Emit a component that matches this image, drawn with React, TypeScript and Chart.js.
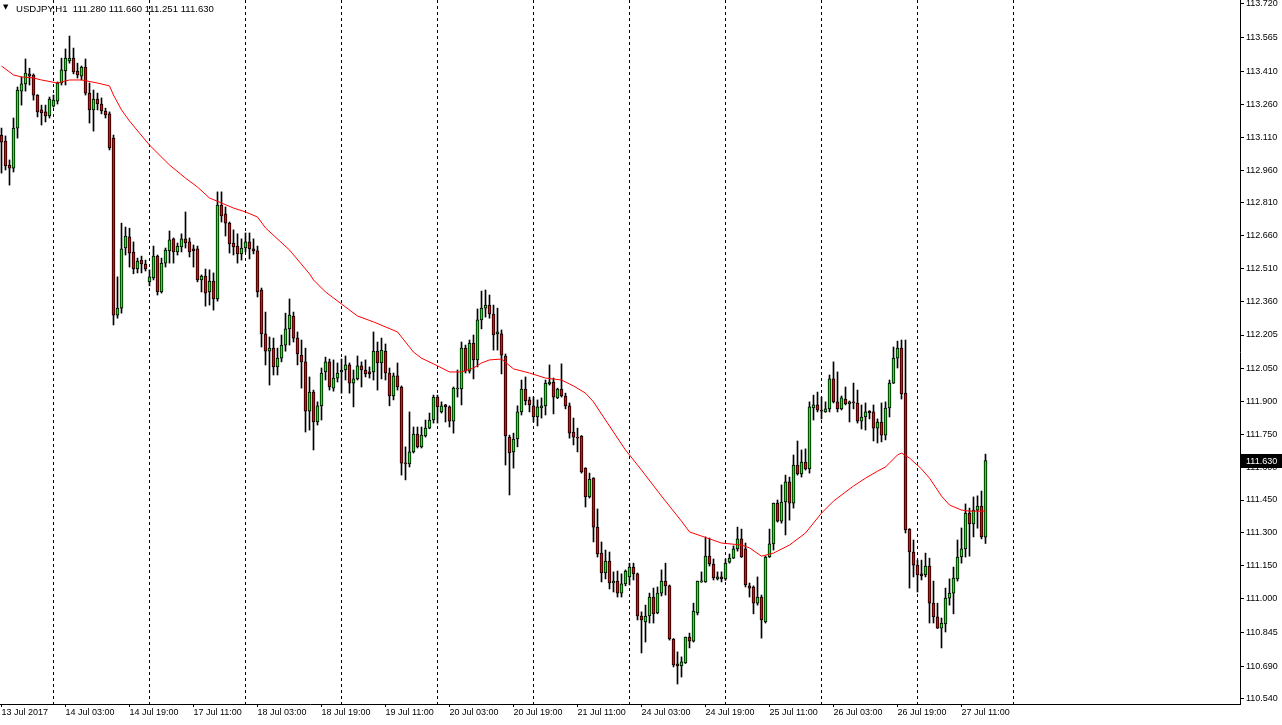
import React, { useEffect, useRef } from 'react';
import { Chart, registerables } from 'chart.js';

Chart.register(...registerables);

// ---------- data (USDJPY, H1), bar index 0 = 13 Jul 2017 11:00 ----------
const symbolTitle = 'USDJPY,H1';
const lastQuote = ['111.280', '111.660', '111.251', '111.630'];

const opens = [
  113.120, 113.092, 112.983, 112.969, 113.152, 113.321, 113.354, 113.400, 113.395, 113.303,
  113.235, 113.226, 113.207, 113.252, 113.275, 113.358, 113.413, 113.459, 113.472, 113.413,
  113.390, 113.431, 113.312, 113.235, 113.285, 113.262, 113.230, 113.217, 113.106, 112.296,
  112.328, 112.603, 112.654, 112.585, 112.507, 112.548, 112.530, 112.448, 112.466, 112.566,
  112.402, 112.534, 112.590, 112.645, 112.585, 112.608, 112.645, 112.631, 112.599, 112.599,
  112.457, 112.475, 112.402, 112.452, 112.370, 112.800, 112.759, 112.717, 112.626, 112.612,
  112.576, 112.603, 112.631, 112.599, 112.590, 112.411, 112.210, 112.131, 112.145, 112.059,
  112.099, 112.159, 112.233, 112.292, 112.191, 112.113, 112.082, 111.857, 111.944, 111.807,
  111.881, 112.036, 112.082, 111.962, 112.008, 112.036, 112.045, 112.068, 111.985, 112.004,
  112.064, 112.045, 112.036, 112.036, 112.131, 112.077, 112.131, 112.031, 111.926, 112.018,
  111.967, 111.619, 111.615, 111.670, 111.752, 111.693, 111.743, 111.779, 111.816, 111.921,
  111.853, 111.885, 111.876, 111.811, 111.958, 111.958, 112.145, 112.040, 112.168, 112.091,
  112.274, 112.328, 112.342, 112.301, 112.210, 112.210, 112.109, 111.738, 111.670, 111.729,
  111.853, 111.958, 111.908, 111.881, 111.830, 111.871, 111.881, 111.981, 111.990, 111.917,
  111.958, 111.926, 111.881, 111.761, 111.738, 111.743, 111.596, 111.464, 111.550, 111.326,
  111.207, 111.116, 111.170, 111.070, 111.079, 111.024, 111.066, 111.098, 111.143, 111.112,
  110.919, 110.892, 110.919, 111.006, 110.933, 111.024, 111.079, 111.057, 110.814, 110.700,
  110.691, 110.704, 110.823, 110.804, 110.933, 111.075, 111.075, 111.193, 111.157, 111.089,
  111.098, 111.089, 111.166, 111.184, 111.226, 111.272, 111.226, 111.057, 111.052, 110.978,
  111.006, 110.892, 111.189, 111.249, 111.436, 111.353, 111.441, 111.533, 111.436, 111.610,
  111.569, 111.624, 111.592, 111.871, 111.885, 111.862, 111.853, 111.867, 112.004, 111.899,
  111.867, 111.912, 111.890, 111.899, 111.894, 111.811, 111.830, 111.857, 111.853, 111.779,
  111.807, 111.747, 111.871, 111.985, 112.099, 112.145, 111.939, 111.317, 111.212, 111.152,
  111.112, 111.107, 111.148, 110.978, 110.915, 110.864, 110.883, 111.001, 111.024, 111.089,
  111.189, 111.226, 111.390, 111.340, 111.404, 111.422, 111.280,
];

const highs = [
  113.152, 113.116, 113.006, 113.198, 113.340, 113.386, 113.468, 113.426, 113.400, 113.305,
  113.257, 113.257, 113.294, 113.303, 113.363, 113.472, 113.514, 113.573, 113.518, 113.449,
  113.436, 113.468, 113.358, 113.326, 113.312, 113.290, 113.243, 113.226, 113.120, 112.471,
  112.717, 112.699, 112.694, 112.631, 112.557, 112.566, 112.548, 112.503, 112.612, 112.571,
  112.557, 112.603, 112.681, 112.649, 112.626, 112.668, 112.768, 112.649, 112.617, 112.612,
  112.480, 112.507, 112.503, 112.489, 112.860, 112.860, 112.791, 112.722, 112.686, 112.668,
  112.645, 112.672, 112.672, 112.645, 112.612, 112.420, 112.310, 112.196, 112.191, 112.145,
  112.205, 112.305, 112.370, 112.310, 112.219, 112.182, 112.145, 112.013, 111.953, 111.899,
  112.054, 112.104, 112.095, 112.091, 112.077, 112.095, 112.109, 112.077, 112.045, 112.109,
  112.082, 112.091, 112.059, 112.219, 112.173, 112.191, 112.164, 112.054, 112.031, 112.077,
  111.972, 111.693, 111.853, 111.784, 111.784, 111.784, 111.816, 111.848, 111.930, 111.930,
  111.899, 111.888, 111.881, 111.967, 112.045, 112.173, 112.159, 112.182, 112.205, 112.324,
  112.406, 112.411, 112.388, 112.342, 112.328, 112.228, 112.118, 111.747, 111.756, 111.881,
  111.999, 112.013, 111.921, 111.921, 111.908, 111.917, 111.999, 112.068, 112.008, 111.962,
  112.073, 111.939, 111.894, 111.825, 111.779, 111.745, 111.598, 111.573, 111.552, 111.409,
  111.258, 111.221, 111.212, 111.121, 111.125, 111.112, 111.130, 111.161, 111.161, 111.116,
  110.938, 110.969, 111.024, 111.047, 111.052, 111.130, 111.161, 111.061, 110.816, 110.755,
  110.732, 110.823, 110.841, 110.978, 111.079, 111.121, 111.281, 111.276, 111.180, 111.121,
  111.121, 111.180, 111.203, 111.240, 111.326, 111.317, 111.253, 111.070, 111.057, 111.098,
  111.015, 111.193, 111.317, 111.436, 111.450, 111.519, 111.564, 111.555, 111.656, 111.720,
  111.679, 111.684, 111.899, 111.930, 111.944, 111.921, 111.899, 112.022, 112.082, 112.036,
  111.926, 111.967, 111.903, 111.985, 111.953, 111.885, 111.894, 111.859, 111.885, 111.821,
  111.894, 111.899, 111.999, 112.150, 112.177, 112.182, 112.182, 111.319, 111.267, 111.175,
  111.175, 111.207, 111.184, 111.079, 110.978, 110.910, 111.047, 111.089, 111.143, 111.267,
  111.322, 111.432, 111.413, 111.464, 111.469, 111.491, 111.660,
];

const lows = [
  112.946, 112.960, 112.891, 112.951, 113.106, 113.257, 113.321, 113.349, 113.280, 113.203,
  113.166, 113.180, 113.198, 113.248, 113.262, 113.349, 113.349, 113.449, 113.400, 113.381,
  113.372, 113.303, 113.175, 113.138, 113.235, 113.217, 113.198, 113.052, 112.251, 112.282,
  112.305, 112.571, 112.516, 112.485, 112.489, 112.489, 112.498, 112.430, 112.457, 112.388,
  112.397, 112.516, 112.534, 112.534, 112.571, 112.585, 112.603, 112.562, 112.516, 112.448,
  112.402, 112.337, 112.342, 112.319, 112.360, 112.722, 112.658, 112.580, 112.571, 112.534,
  112.548, 112.585, 112.553, 112.576, 112.379, 112.150, 112.068, 111.976, 112.022, 112.022,
  112.082, 112.131, 112.159, 112.173, 112.068, 111.962, 111.761, 111.770, 111.679, 111.793,
  111.816, 111.999, 111.953, 111.948, 111.990, 111.939, 111.999, 111.939, 111.876, 111.999,
  111.967, 112.013, 112.008, 111.999, 111.953, 112.004, 111.999, 111.881, 111.908, 111.953,
  111.564, 111.542, 111.601, 111.665, 111.688, 111.688, 111.738, 111.776, 111.802, 111.802,
  111.848, 111.807, 111.784, 111.756, 111.921, 111.885, 112.031, 112.031, 112.004, 112.059,
  112.233, 112.287, 112.282, 112.136, 112.136, 112.027, 111.610, 111.473, 111.596, 111.693,
  111.839, 111.885, 111.853, 111.807, 111.789, 111.825, 111.839, 111.976, 111.844, 111.914,
  111.921, 111.867, 111.733, 111.702, 111.670, 111.573, 111.418, 111.459, 111.258, 111.189,
  111.075, 111.089, 111.043, 111.029, 111.006, 111.006, 111.057, 111.061, 111.084, 110.901,
  110.750, 110.800, 110.887, 110.887, 110.929, 111.011, 111.015, 110.809, 110.686, 110.608,
  110.640, 110.702, 110.773, 110.800, 110.924, 111.073, 111.073, 111.148, 111.084, 111.084,
  111.075, 111.082, 111.161, 111.182, 111.216, 111.187, 111.052, 111.006, 110.929, 110.969,
  110.818, 110.887, 111.187, 111.221, 111.349, 111.344, 111.290, 111.358, 111.413, 111.564,
  111.555, 111.587, 111.573, 111.816, 111.853, 111.821, 111.851, 111.853, 111.894, 111.853,
  111.862, 111.885, 111.807, 111.867, 111.802, 111.775, 111.770, 111.821, 111.720, 111.711,
  111.716, 111.725, 111.830, 111.983, 112.054, 111.912, 111.299, 111.047, 111.098, 111.029,
  111.084, 111.098, 110.887, 110.887, 110.862, 110.773, 110.846, 110.969, 110.929, 111.079,
  111.161, 111.189, 111.193, 111.281, 111.321, 111.272, 111.251,
];

const closes = [
  113.088, 112.979, 112.969, 113.152, 113.326, 113.354, 113.404, 113.390, 113.303, 113.226,
  113.221, 113.207, 113.285, 113.280, 113.358, 113.418, 113.472, 113.472, 113.409, 113.395,
  113.431, 113.312, 113.235, 113.285, 113.262, 113.230, 113.212, 113.061, 112.296, 112.328,
  112.599, 112.658, 112.580, 112.507, 112.543, 112.530, 112.507, 112.471, 112.566, 112.402,
  112.534, 112.594, 112.640, 112.585, 112.612, 112.645, 112.626, 112.585, 112.590, 112.457,
  112.475, 112.397, 112.452, 112.370, 112.800, 112.750, 112.717, 112.622, 112.608, 112.576,
  112.603, 112.631, 112.599, 112.590, 112.402, 112.210, 112.131, 112.145, 112.059, 112.099,
  112.159, 112.233, 112.296, 112.191, 112.118, 112.082, 111.857, 111.944, 111.807, 111.881,
  112.031, 112.082, 111.967, 112.008, 112.031, 112.045, 112.068, 111.985, 112.004, 112.064,
  112.045, 112.027, 112.027, 112.131, 112.077, 112.136, 112.031, 111.926, 112.018, 111.967,
  111.619, 111.615, 111.670, 111.752, 111.693, 111.747, 111.779, 111.816, 111.921, 111.876,
  111.881, 111.876, 111.811, 111.962, 111.962, 112.145, 112.040, 112.168, 112.091, 112.274,
  112.328, 112.342, 112.301, 112.205, 112.219, 112.113, 111.743, 111.665, 111.729, 111.853,
  111.958, 111.903, 111.885, 111.830, 111.876, 111.881, 111.985, 111.990, 111.921, 111.958,
  111.926, 111.881, 111.756, 111.738, 111.733, 111.578, 111.464, 111.546, 111.326, 111.203,
  111.116, 111.170, 111.070, 111.079, 111.024, 111.066, 111.125, 111.143, 111.112, 110.919,
  110.901, 110.919, 111.006, 110.929, 111.024, 111.079, 111.057, 110.814, 110.695, 110.691,
  110.709, 110.823, 110.804, 110.942, 111.079, 111.079, 111.193, 111.157, 111.093, 111.098,
  111.089, 111.161, 111.184, 111.226, 111.272, 111.189, 111.061, 111.047, 110.978, 111.006,
  110.901, 111.189, 111.249, 111.436, 111.353, 111.441, 111.533, 111.436, 111.610, 111.569,
  111.624, 111.592, 111.876, 111.885, 111.862, 111.857, 111.867, 112.004, 111.899, 111.867,
  111.917, 111.890, 111.899, 111.894, 111.811, 111.830, 111.853, 111.848, 111.779, 111.807,
  111.747, 111.871, 111.985, 112.099, 112.145, 111.935, 111.313, 111.212, 111.152, 111.107,
  111.103, 111.148, 110.978, 110.915, 110.864, 110.887, 111.001, 111.024, 111.093, 111.189,
  111.226, 111.390, 111.340, 111.404, 111.422, 111.281, 111.630,
];

// moving average (red line), read at sampled bar indices
const maIndex = [
  0, 3, 5, 8, 10, 14, 15, 17, 20, 24, 27, 28, 30, 32, 37, 42, 46, 49, 52, 55,
  58, 61, 64, 66, 72, 77, 78, 81, 85, 89, 93, 99, 100, 103, 105, 109, 112, 115, 118, 120,
  122, 125, 128, 132, 136, 140, 143, 146, 148, 151, 153, 156, 160, 165, 170, 172, 175, 180, 185, 187,
  190, 193, 197, 201, 205, 208, 213, 216, 219, 221, 224, 225, 227, 230, 232, 235, 237, 240, 242, 246,
];
const maValue = [
  113.436, 113.395, 113.386, 113.381, 113.372, 113.358, 113.363, 113.372, 113.372, 113.358,
  113.345, 113.303, 113.235, 113.184, 113.074, 112.983, 112.923, 112.882, 112.832, 112.809,
  112.786, 112.768, 112.745, 112.695, 112.594, 112.485, 112.457, 112.402, 112.347, 112.292,
  112.265, 112.219, 112.196, 112.127, 112.099, 112.064, 112.036, 112.036, 112.054, 112.077,
  112.091, 112.095, 112.050, 112.031, 112.008, 111.999, 111.972, 111.939, 111.899, 111.816,
  111.761, 111.679, 111.587, 111.468, 111.353, 111.304, 111.285, 111.253, 111.244, 111.231,
  111.193, 111.207, 111.244, 111.299, 111.390, 111.445, 111.514, 111.550, 111.582, 111.601,
  111.656, 111.665, 111.642, 111.592, 111.550, 111.468, 111.427, 111.404, 111.399, 111.399,
];

const priceTicks = [
  113.720, 113.565, 113.410, 113.260, 113.110, 112.960, 112.810, 112.660, 112.510, 112.360,
  112.205, 112.050, 111.900, 111.750, 111.600, 111.450, 111.300, 111.150, 111.000, 110.845,
  110.690, 110.540,
];
const timeLabelIndex = [0, 16, 32, 48, 64, 80, 96, 112, 128, 144, 160, 176, 192, 208, 224, 240];
const timeLabels = [
  '13 Jul 2017', '14 Jul 03:00', '14 Jul 19:00', '17 Jul 11:00', '18 Jul 03:00', '18 Jul 19:00',
  '19 Jul 11:00', '20 Jul 03:00', '20 Jul 19:00', '21 Jul 11:00', '24 Jul 03:00', '24 Jul 19:00',
  '25 Jul 11:00', '26 Jul 03:00', '26 Jul 19:00', '27 Jul 11:00',
];
const daySeparatorIndex = [13, 37, 61, 85, 109, 133, 157, 181, 205, 229, 253];

const BULL = '#00ff00';
const BEAR = '#ff0000';
const FONT = "'Liberation Sans', Arial, sans-serif";
const X_MIN = -0.375;
const X_MAX = 309.625;
const Y_MIN = 110.5165;
const Y_MAX = 113.738;

export default function App() {
  const ref = useRef<HTMLCanvasElement>(null);

  useEffect(() => {
    const canvas = ref.current;
    if (!canvas) return;

    const bodies = opens.map((o, i) => ({ x: i, y: [o, closes[i]] }));
    const bodyColors = opens.map((o, i) => (closes[i] >= o ? BULL : BEAR));
    const wicks = opens.map((o, i) => ({
      x: i,
      y: [Math.min(lows[i], o, closes[i]), Math.max(highs[i], o, closes[i])],
    }));
    const ma = maIndex.map((x, k) => ({ x, y: maValue[k] }));

    const zeroPad = (s: any) => {
      s.paddingTop = 0;
      s.paddingBottom = 0;
      s.paddingLeft = 0;
      s.paddingRight = 0;
    };

    const lastPricePlugin = {
      id: 'lastPrice',
      afterDraw(chart: any) {
        const { ctx, chartArea } = chart;
        const last = closes[closes.length - 1];
        const y = Math.round(chart.scales.y.getPixelForValue(last));
        ctx.save();
        ctx.fillStyle = '#000';
        ctx.fillRect(chartArea.right + 1, y - 7, chart.width - chartArea.right - 1, 14);
        ctx.fillStyle = '#fff';
        ctx.font = `9px ${FONT}`;
        ctx.textBaseline = 'middle';
        ctx.textAlign = 'left';
        ctx.fillText(last.toFixed(3), chartArea.right + 6, y + 0.5);
        ctx.restore();
      },
    };

    const chart = new Chart(canvas, {
      type: 'bar',
      data: {
        datasets: [
          {
            type: 'line',
            label: 'MA',
            data: ma,
            borderColor: '#ff0000',
            borderWidth: 1,
            pointRadius: 0,
            tension: 0,
            order: 0,
            xAxisID: 'x',
            yAxisID: 'y',
          } as any,
          {
            type: 'bar',
            label: 'body',
            data: bodies,
            backgroundColor: bodyColors,
            borderColor: '#000',
            borderWidth: 1,
            borderSkipped: false,
            grouped: false,
            barThickness: 3,
            maxBarThickness: 3,
            minBarLength: 1,
            order: 1,
            xAxisID: 'x',
            yAxisID: 'y',
          } as any,
          {
            type: 'bar',
            label: 'wick',
            data: wicks,
            backgroundColor: '#000',
            borderWidth: 0,
            grouped: false,
            barThickness: 1,
            maxBarThickness: 1,
            order: 2,
            xAxisID: 'x',
            yAxisID: 'y',
          } as any,
        ],
      },
      options: {
        responsive: false,
        animation: false,
        devicePixelRatio: 1,
        events: [],
        layout: { padding: 0 },
        plugins: {
          legend: { display: false },
          tooltip: { enabled: false },
          title: { display: false },
        },
        scales: {
          x: {
            type: 'linear',
            position: 'bottom',
            bounds: 'data',
            min: X_MIN,
            max: X_MAX,
            offset: false,
            afterBuildTicks: (s: any) => {
              s.ticks = timeLabelIndex.map((v) => ({ value: v }));
            },
            afterFit: (s: any) => {
              s.height = 21;
              zeroPad(s);
            },
            ticks: {
              autoSkip: false,
              maxRotation: 0,
              minRotation: 0,
              align: 'start',
              padding: 0,
              color: '#000',
              font: { family: FONT, size: 9 },
              callback: (v: any) => {
                const k = timeLabelIndex.indexOf(Number(v));
                return k >= 0 ? timeLabels[k] : '';
              },
            },
            grid: { drawOnChartArea: false, drawTicks: true, tickLength: 3, tickColor: '#000', offset: false },
            border: { display: true, color: '#000', width: 1 },
          },
          xSep: {
            type: 'linear',
            position: 'bottom',
            bounds: 'data',
            min: X_MIN,
            max: X_MAX,
            offset: false,
            afterBuildTicks: (s: any) => {
              s.ticks = daySeparatorIndex.map((v) => ({ value: v }));
            },
            afterFit: (s: any) => {
              s.height = 0;
              zeroPad(s);
            },
            ticks: { display: false },
            grid: { drawOnChartArea: true, drawTicks: false, color: '#000', lineWidth: 1, offset: false },
            border: { display: false, dash: [3, 3] },
          },
          y: {
            type: 'linear',
            position: 'right',
            bounds: 'data',
            min: Y_MIN,
            max: Y_MAX,
            afterBuildTicks: (s: any) => {
              s.ticks = priceTicks.map((v) => ({ value: v }));
            },
            afterFit: (s: any) => {
              s.width = 42;
              zeroPad(s);
            },
            ticks: {
              padding: 2,
              color: '#000',
              font: { family: FONT, size: 9 },
              callback: (v: any) => Number(v).toFixed(3),
            },
            grid: { drawOnChartArea: false, drawTicks: true, tickLength: 4, tickColor: '#000' },
            border: { display: true, color: '#000', width: 1 },
          },
        },
      } as any,
      plugins: [lastPricePlugin],
    });

    return () => chart.destroy();
  }, []);

  return (
    <div style={{ position: 'fixed', left: 0, top: 0, width: 1282, height: 725, background: '#fff', overflow: 'hidden' }}>
      <canvas ref={ref} width={1282} height={725} style={{ display: 'block', width: 1282, height: 725 }} />
      <div style={{ position: 'absolute', left: 0, top: 0, color: '#000', pointerEvents: 'none', whiteSpace: 'pre' }}>
        <span style={{ position: 'absolute', left: 3, top: 2, fontFamily: "'DejaVu Sans', sans-serif", fontSize: 7, lineHeight: '11px' }}>▼</span>
        <span style={{ position: 'absolute', left: 16, top: 3, fontFamily: FONT, fontSize: 9.6, lineHeight: '11px' }}>
          {symbolTitle + '  ' + lastQuote.join(' ')}
        </span>
      </div>
    </div>
  );
}
